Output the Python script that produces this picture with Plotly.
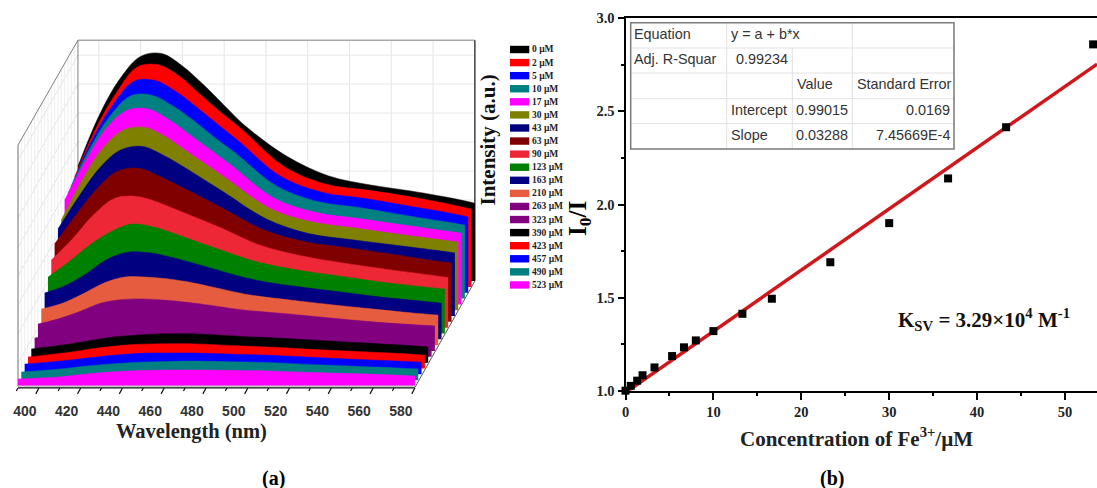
import plotly.graph_objects as go

W, H = 1097, 488

# ---------- Panel (a) data ----------
wavelengths = [390, 400, 410, 420, 430, 440, 450, 460, 470, 490, 510, 530, 550, 570, 580]
conc_labels = ["0 µM", "2 µM", "5 µM", "10 µM", "17 µM", "30 µM", "43 µM", "63 µM", "90 µM", "123 µM",
               "163 µM", "210 µM", "263 µM", "323 µM", "390 µM", "423 µM", "457 µM", "490 µM", "523 µM"]
colors = ["#000000", "#ff0000", "#0000ff", "#008080", "#ff00ff", "#808000", "#000080", "#800000", "#ee2737",
          "#008000", "#000080", "#e65c3e", "#800080", "#800080", "#000000", "#ff0000", "#0000ff", "#008080", "#ff00ff"]
s000 = [480, 690, 845, 940, 952, 900, 822, 735, 650, 522, 440, 402, 376, 345, 326]
s002 = [460, 660, 812, 920, 929, 882, 806, 730, 660, 505, 430, 405, 378, 345, 325]
s005 = [445, 640, 788, 885, 888, 842, 776, 705, 635, 488, 420, 395, 365, 335, 317]
s010 = [440, 620, 762, 848, 851, 807, 746, 675, 610, 470, 405, 380, 350, 322, 307]
s017 = [436, 600, 738, 812, 818, 772, 709, 645, 580, 445, 385, 360, 335, 310, 298]
s030 = [377, 545, 680, 755, 765, 725, 665, 605, 545, 425, 370, 345, 320, 297, 285]
s043 = [364, 500, 620, 695, 710, 675, 625, 570, 515, 405, 345, 320, 298, 276, 264]
s063 = [326, 445, 555, 630, 643, 610, 567, 522, 477, 385, 335, 310, 285, 258, 246]
s090 = [283, 370, 470, 540, 550, 528, 493, 458, 422, 345, 300, 270, 245, 222, 210]
s123 = [236, 300, 370, 425, 458, 447, 420, 388, 358, 300, 265, 240, 215, 195, 186]
s163 = [194, 225, 275, 335, 365, 362, 345, 322, 297, 250, 222, 200, 178, 160, 151]
s210 = [151, 175, 215, 260, 285, 285, 278, 265, 247, 210, 188, 168, 150, 133, 126]
s263 = [113, 135, 165, 200, 215, 218, 213, 205, 194, 170, 155, 138, 122, 110, 105]
s323 = [79, 95, 120, 145, 160, 165, 162, 155, 148, 132, 120, 108, 98, 90, 85]
s390 = [57, 68, 80, 95, 108, 115, 120, 121, 120, 110, 102, 92, 82, 72, 66]
s423 = [48, 58, 68, 82, 92, 100, 103, 104, 103, 95, 88, 78, 70, 62, 56]
s457 = [43, 50, 58, 68, 78, 85, 89, 89, 89, 84, 79, 70, 62, 55, 51]
s490 = [34, 40, 48, 58, 66, 72, 76, 78, 80, 77, 73, 65, 58, 51, 47]
s523 = [29, 33, 38, 48, 56, 62, 65, 67, 67, 66, 63, 57, 52, 46, 42]
intensity_series = [s000, s002, s005, s010, s017, s030, s043, s063, s090, s123,
                    s163, s210, s263, s323, s390, s423, s457, s490, s523]
wl_major = [400, 420, 440, 460, 480, 500, 520, 540, 560, 580]
wl_minor = [390, 410, 430, 450, 470, 490, 510, 530, 550, 570]
wall_h_lines = [96, 218, 339, 460, 582, 703, 824, 945]

# ---------- Panel (b) data ----------
conc_x = [0, 0.6, 1.33, 1.94, 3.3, 5.3, 6.65, 8, 10, 13.3, 16.65, 23.3, 30, 36.7, 43.3, 53.2]
ratio_y = [1.0, 1.026, 1.054, 1.083, 1.125, 1.186, 1.233, 1.27, 1.32, 1.413, 1.494, 1.69, 1.9, 2.14, 2.415, 2.86]
fit_x = [0.3, 53.65]
fit_y = [1.0, 2.754]
table_cells = [
    ("Equation", 634.3, 33.5, "left"), ("y = a + b*x", 730.7, 33.5, "left"),
    ("Adj. R-Squar", 634.3, 59, "left"), ("0.99234", 788, 59, "right"),
    ("Value", 796.7, 84, "left"), ("Standard Error", 856.5, 84, "left"),
    ("Intercept", 730.7, 110, "left"), ("0.99015", 796, 110, "left"), ("0.0169", 950, 110, "right"),
    ("Slope", 730.7, 135, "left"), ("0.03288", 796, 135, "left"), ("7.45669E-4", 950, 135, "right"),
]

# ---------- Oblique projection constants (data units) ----------
PX_PER_NM, PX_PER_AU = 2.089, 0.239
DEPTH_X = 3.33 / PX_PER_NM       # nm shift per series
DEPTH_Y = 5.83 / PX_PER_AU       # a.u. shift per series
N = len(intensity_series)
WL0, WL1, TOP = wavelengths[0], wavelengths[-1], 1008


def dxp(px):
    return WL0 + (px - 18) / PX_PER_NM


def dyp(py):
    return (386 - py) / PX_PER_AU


def line_trace(xs, ys, color, width, dash="solid"):
    return go.Scatter(x=xs, y=ys, mode="lines", line=dict(color=color, width=width, dash=dash),
                      hoverinfo="skip", showlegend=False, xaxis="x", yaxis="y", cliponaxis=False)


def px(x):
    return x / W


def py(y):
    return 1 - y / H


fig = go.Figure()
back_dx, back_dy = (N - 1) * DEPTH_X, (N - 1) * DEPTH_Y

# wall grids
for wl in wl_major:
    fig.add_trace(line_trace([wl + back_dx] * 2, [back_dy, back_dy + TOP], "#e4e4e4", 1))
for v in wall_h_lines:
    fig.add_trace(line_trace([WL0 + back_dx, WL1 + back_dx], [back_dy + v] * 2, "#e8e8e8", 1))
    fig.add_trace(line_trace([WL0, WL0 + back_dx], [v, back_dy + v], "#e4e4e4", 1))
for d in range(1, N - 1):
    fig.add_trace(line_trace([WL0 + d * DEPTH_X] * 2, [d * DEPTH_Y, d * DEPTH_Y + TOP], "#eeeeee", 1))
# wall frame
fig.add_trace(line_trace([WL0 + back_dx, WL1 + back_dx], [back_dy + TOP] * 2, "#a8a8a8", 1.5))
fig.add_trace(line_trace([WL0 + back_dx] * 2, [back_dy, back_dy + TOP], "#808080", 1))
fig.add_trace(line_trace([WL0, WL0 + back_dx], [TOP, back_dy + TOP], "#808080", 1))
fig.add_trace(line_trace([WL0, WL0], [0, TOP], "#707070", 1))
fig.add_trace(line_trace([WL1 + back_dx] * 2, [back_dy, back_dy + TOP], "#444444", 1.5))
fig.add_trace(line_trace([WL1, WL1 + back_dx], [-6, back_dy], "#555555", 1))

# walls, back to front
for i in range(N):
    d = N - 1 - i
    xs = [w + d * DEPTH_X for w in wavelengths]
    base = [d * DEPTH_Y] * len(wavelengths)
    tops = [v + d * DEPTH_Y for v in intensity_series[i]]
    fig.add_trace(go.Scatter(x=xs, y=base, mode="lines", line=dict(width=0, color=colors[i]),
                             hoverinfo="skip", showlegend=False, xaxis="x", yaxis="y"))
    fig.add_trace(go.Scatter(x=xs, y=tops, mode="lines", name=conc_labels[i], fill="tonexty", fillcolor=colors[i],
                             line=dict(width=0.5, color=colors[i], shape="spline", smoothing=1),
                             hoverinfo="skip", showlegend=False, xaxis="x", yaxis="y"))

# front baseline and slanted ticks
fig.add_trace(line_trace([WL0, WL1], [-2.5, -2.5], "#c8c8c8", 2))
fig.add_trace(line_trace([WL0, WL1], [-8, -8], "#111111", 1.2))
for wl in wl_major:
    fig.add_trace(line_trace([wl, wl - 1.5], [-8, -33], "#111111", 1.2))
for wl in wl_minor:
    fig.add_trace(line_trace([wl, wl - 0.8], [-8, -21], "#111111", 1.2))

# Panel (b)
fig.add_trace(go.Scatter(x=fit_x, y=fit_y, mode="lines", line=dict(color="#d0181c", width=3.5),
                         hoverinfo="skip", showlegend=False, xaxis="x2", yaxis="y2", cliponaxis=False))
fig.add_trace(go.Scatter(x=conc_x, y=ratio_y, mode="markers", marker=dict(symbol="square", size=8, color="black"),
                         hoverinfo="skip", showlegend=False, xaxis="x2", yaxis="y2", cliponaxis=False))

serif = "Liberation Serif"
sans = "Liberation Sans"
shapes, ann = [], []


def text(t, x, y, size, family=serif, color="black", bold=True, angle=0, anchor="center"):
    nudge = {"left": -2, "right": 2, "center": 0}[anchor]
    ann.append(dict(text=t, x=px(x + nudge), y=py(y), xref="paper", yref="paper", showarrow=False, xanchor=anchor,
                    yanchor="middle", textangle=angle,
                    font=dict(family=family, size=size, color=color, weight="bold" if bold else "normal")))


# custom legend (rows are tighter than a native legend allows)
for i, (lab, col) in enumerate(zip(conc_labels, colors)):
    yc = 49.5 + i * 13.08
    shapes.append(dict(type="rect", xref="paper", yref="paper", x0=px(510), x1=px(529.3), y0=py(yc - 3.7),
                       y1=py(yc + 3.7), fillcolor=col, line=dict(width=0)))
    text(lab, 532, yc, 9.5, anchor="left", color="#222222")

# statistics table
tx0, tx1, ty0, ty1 = 630.7, 954, 22.7, 149
for yy in [48, 73, 98.7, 123.7]:
    shapes.append(dict(type="line", xref="paper", yref="paper", x0=px(tx0), x1=px(tx1), y0=py(yy), y1=py(yy),
                       line=dict(color="#e2e2e2", width=1)))
for xx, top in [(726.7, ty0), (792.3, 48), (852.3, ty0)]:
    shapes.append(dict(type="line", xref="paper", yref="paper", x0=px(xx), x1=px(xx), y0=py(top), y1=py(ty1),
                       line=dict(color="#e2e2e2", width=1)))
shapes.append(dict(type="rect", xref="paper", yref="paper", x0=px(tx0), x1=px(tx1), y0=py(ty0), y1=py(ty1),
                   line=dict(color="#7a7a7a", width=1.5)))
for t, x, y, al in table_cells:
    text(t, x, y, 14.4, family=sans, color="#333333", bold=False, anchor=al)

text("Wavelength (nm)", 191.7, 431.5, 20.5, color="#222222")
text("Intensity (a.u.)", 487.5, 140, 21, angle=-90, color="#111111")
text("(a)", 273, 478, 20)
text("(b)", 832, 478, 20)
text("I<sub>0</sub>/I", 579, 219, 25, angle=-90)
text("Concentration of Fe<sup>3+</sup>/µM", 856, 437, 21, color="#222222")
text("K<sub>SV</sub> = 3.29×10<sup>4</sup> M<sup>-1</sup>", 984, 319, 21, color="#111111")

fig.update_layout(
    width=W, height=H, margin=dict(l=0, r=0, t=0, b=0), paper_bgcolor="white", plot_bgcolor="rgba(0,0,0,0)",
    showlegend=False, hovermode=False, shapes=shapes, annotations=ann,
    xaxis=dict(domain=[px(10), px(480)], range=[dxp(10), dxp(480)], automargin=False, showgrid=False, zeroline=False,
               showline=False,
               tickmode="array", tickvals=[w - 6.7 for w in wl_major], ticktext=[str(w) for w in wl_major],
               ticks="outside", ticklen=3, tickcolor="rgba(0,0,0,0)",
               tickfont=dict(family=sans, size=14, color="#333333", weight="bold")),
    yaxis=dict(domain=[py(395), py(30)], range=[dyp(395), dyp(30)], automargin=False, visible=False),
    xaxis2=dict(domain=[px(625.5), 1], range=[0, (W - 625.5) / 8.79], anchor="y2", automargin=False, showgrid=False,
                zeroline=False,
                showline=True, linecolor="black", linewidth=1.5, mirror=True, ticks="outside", ticklen=7.5, tickwidth=1.5,
                tickcolor="black", tickvals=[0, 10, 20, 30, 40, 50],
                minor=dict(tickvals=[5, 15, 25, 35, 45], ticks="outside", ticklen=3.5, tickwidth=1.5, tickcolor="black"),
                tickfont=dict(family=serif, size=14.5, color="#222222", weight="bold")),
    yaxis2=dict(domain=[py(390.7), py(18.3)], range=[1, 3], anchor="x2", automargin=False, showgrid=False,
                zeroline=False,
                showline=True, linecolor="black", linewidth=2, ticks="outside", ticklen=6, tickwidth=1.5,
                tickcolor="black", tickvals=[1, 1.5, 2, 2.5, 3], ticktext=["1.0", "1.5", "2.0", "2.5", "3.0"],
                minor=dict(tickvals=[1.25, 1.75, 2.25, 2.75], ticks="outside", ticklen=3, tickwidth=1.5, tickcolor="black"),
                tickfont=dict(family=serif, size=14.5, color="#222222", weight="bold")),
)

fig.write_html("out.html", config={"displayModeBar": False},
               post_script="document.body.style.margin='0';document.documentElement.style.overflow='hidden';")
